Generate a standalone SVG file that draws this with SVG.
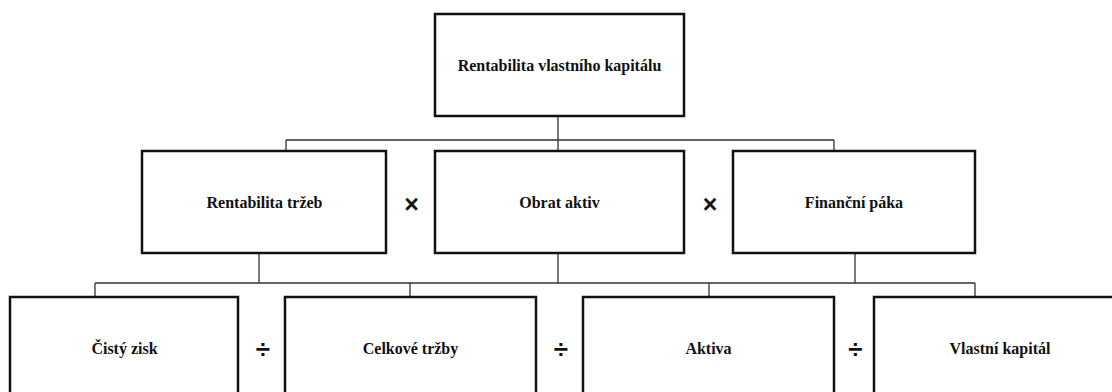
<svg xmlns="http://www.w3.org/2000/svg" width="1112" height="392" viewBox="0 0 1112 392">
<style>
.box{fill:#fff;stroke:#111;stroke-width:2.5}
.lbl{font-family:"Liberation Serif","Times New Roman",serif;font-weight:bold;font-size:16px;fill:#111;text-anchor:middle}
.op{font-family:"Liberation Sans",Arial,sans-serif;font-weight:bold;fill:#111;text-anchor:middle}
.con{fill:none;stroke:#333;stroke-width:1.3}
</style>
<rect width="1112" height="392" fill="#fff"/>
<g id="connectors">
<path class="con" d="M558 116V140M286 140H834M286 140V151M558 140V151M834 140V151"/>
<path class="con" d="M259 253V283M558 253V283M855 253V283M95 283H975M95 283V297M410 283V297M709 283V297M975 283V297"/>
</g>
<g id="n-roe"><rect class="box" x="435" y="14" width="249" height="102"/><text class="lbl" x="559.5" y="70.7">Rentabilita vlastního kapitálu</text></g>
<g id="n-ros"><rect class="box" x="142" y="151" width="244" height="102"/><text class="lbl" x="264.5" y="207.5">Rentabilita tržeb</text></g>
<g id="n-obrat"><rect class="box" x="435" y="151" width="249" height="102"/><text class="lbl" x="559.5" y="207.5">Obrat aktiv</text></g>
<g id="n-paka"><rect class="box" x="733" y="151" width="242" height="102"/><text class="lbl" x="854" y="207.5">Finanční páka</text></g>
<g id="n-zisk"><rect class="box" x="10" y="297" width="228" height="102"/><text class="lbl" x="124.5" y="354">Čistý zisk</text></g>
<g id="n-trzby"><rect class="box" x="285" y="297" width="251" height="102"/><text class="lbl" x="410.5" y="354">Celkové tržby</text></g>
<g id="n-aktiva"><rect class="box" x="583" y="297" width="251" height="102"/><text class="lbl" x="708.5" y="354">Aktiva</text></g>
<g id="n-vk"><rect class="box" x="874" y="297" width="252" height="102"/><text class="lbl" x="1000" y="354">Vlastní kapitál</text></g>
<g id="operators">
<text class="op" x="411.5" y="212.5" font-size="25">×</text>
<text class="op" x="710" y="212.5" font-size="25">×</text>
<text class="op" x="263" y="358" font-size="26">÷</text>
<text class="op" x="561" y="358" font-size="26">÷</text>
<text class="op" x="855.5" y="358" font-size="26">÷</text>
</g>
</svg>
